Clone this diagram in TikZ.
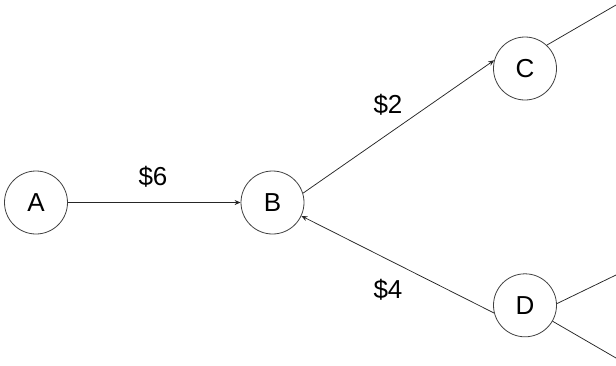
\documentclass[tikz,border=0pt]{standalone}
\usepackage{fontspec}
\setmainfont{Liberation Sans}
\usetikzlibrary{arrows.meta}
\begin{document}
\begin{tikzpicture}[x=1pt,y=-1pt,
  state/.style={circle,draw=black!75,line width=0.8pt,minimum size=63pt,inner sep=0pt,font=\fontsize{26}{30}\selectfont},
  cost/.style={font=\fontsize{26}{30}\selectfont,inner sep=0pt},
  link/.style={draw=black!85,line width=0.75pt},
  arr/.style={link,-{Stealth[length=6pt,width=5pt]}}]
\useasboundingbox (0,0) rectangle (616,365);
\node[state] (A) at (36,202.5) {A};
\node[state] (B) at (272.5,202.5) {B};
\node[state] (C) at (525,68.5) {C};
\node[state] (D) at (525,305.3) {D};
\coordinate (Cout) at (616,5);
\coordinate (Dout1) at (616,275);
\coordinate (Dout2) at (616,358);
\draw[arr] (A.east) -- (B.west);
\draw[arr] (B.17) -- (C.165);
\draw[arr] (D.194) -- (B.-25);
\draw[link] (C.47) -- (Cout);
\draw[link] (D.3) -- (Dout1);
\draw[link] (D.-30) -- (Dout2);
\node[cost] (l6) at (153,177) {\$6};
\node[cost] (l2) at (388,105) {\$2};
\node[cost] (l4) at (388,290) {\$4};
\end{tikzpicture}
\end{document}
